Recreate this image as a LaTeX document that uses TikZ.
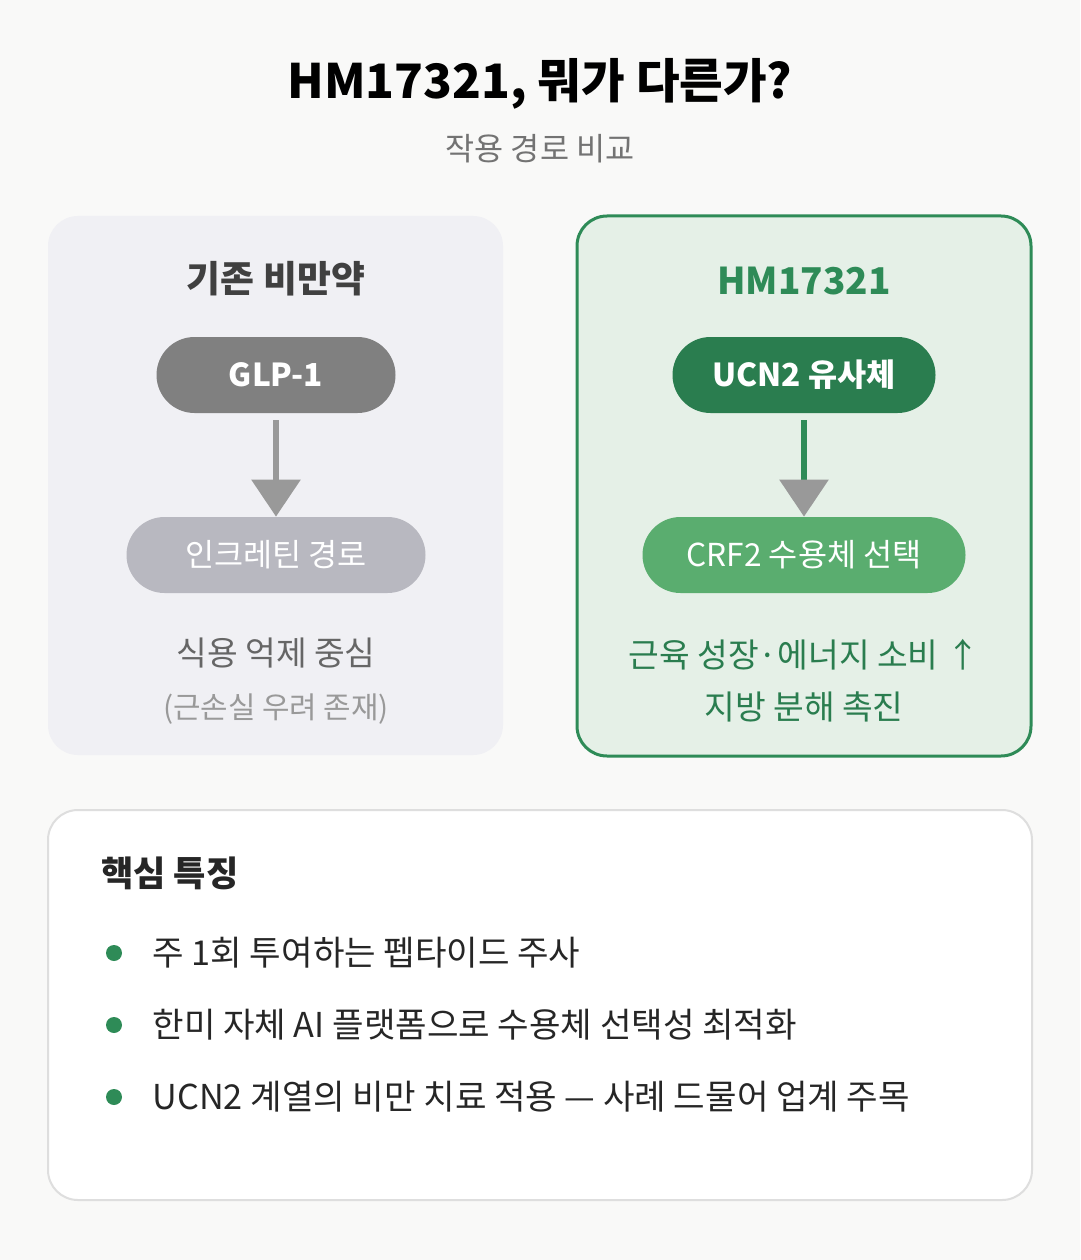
\documentclass[tikz,border=0pt]{standalone}
\usepackage{fontspec}
\setmainfont{Noto Sans CJK KR}
\usetikzlibrary{positioning, arrows.meta}
\definecolor{bgpage}{HTML}{F9F9F8}
\definecolor{leftbg}{HTML}{F0F0F4}
\definecolor{rightbg}{HTML}{E5F0E7}
\definecolor{hmgreen}{HTML}{2E8B57}
\definecolor{darkgreen}{HTML}{2A7D4F}
\definecolor{lightgreen}{HTML}{5AAD6F}
\definecolor{pillgray}{HTML}{808080}
\definecolor{pilllight}{HTML}{B8B8C0}
\definecolor{arrowgray}{HTML}{999999}
\begin{document}
\begin{tikzpicture}[x=0.02cm, y=-0.02cm, >=Latex,
        panel/.style = {rounded corners=30*0.02cm},
        pill/.style = {rounded corners=38*0.02cm, minimum height=76*0.02cm, text=white, font=\fontsize{18}{22}\selectfont},
        flow/.style = {-{Triangle[width=48*0.02cm, length=37*0.02cm, color=arrowgray]}, line width=6*0.02cm, shorten <=7*0.02cm},
        bullet/.style = {circle, fill=hmgreen, inner sep=0pt, minimum size=16*0.02cm},
        item/.style = {anchor=west, text=black!85, font=\fontsize{19.5}{23}\selectfont},
        ]
        \fill[bgpage] (0,0) rectangle (1080,1260);
        \useasboundingbox (0,0) rectangle (1080,1260);

        % title
        \node (title) at (540,84) {\fontsize{27}{32}\selectfont\bfseries HM17321, 뭐가 다른가?};
        \node[text=black!55] (subtitle) at (540,149) {\fontsize{18}{22}\selectfont 작용 경로 비교};

        % panels
        \fill[leftbg, panel] (48,216) rectangle (503,755);
        \filldraw[fill=rightbg, draw=hmgreen, line width=3*0.02cm, panel] (577,216) rectangle (1031,756);

        % left side
        \node[text=black!75] (oldtitle) at (276,279) {\fontsize{21}{25}\selectfont\bfseries 기존 비만약};
        \node[pill, fill=pillgray, minimum width=239*0.02cm] (glp) at (276,375) {\bfseries GLP-1};
        \node[pill, fill=pilllight, minimum width=299*0.02cm] (incretin) at (276,555) {인크레틴 경로};
        \draw[flow, arrowgray] (glp) -- (incretin);
        \node[text=black!60] (appetite) at (276,653) {\fontsize{19}{23}\selectfont 식용 억제 중심};
        \node[text=black!40] (muscle) at (276,709) {\fontsize{17}{21}\selectfont (근손실 우려 존재)};

        % right side
        \node[text=hmgreen] (newtitle) at (804,281) {\fontsize{21}{25}\selectfont\bfseries HM17321};
        \node[pill, fill=darkgreen, minimum width=263*0.02cm] (ucn) at (804,375) {\bfseries UCN2 유사체};
        \node[pill, fill=lightgreen, minimum width=323*0.02cm] (crf) at (804,555) {CRF2 수용체 선택};
        \draw[flow, hmgreen] (ucn) -- (crf);
        \node[text=darkgreen] (energy) at (804,655) {\fontsize{19}{23}\selectfont 근육 성장·에너지 소비 ↑};
        \node[text=darkgreen] (fat) at (804,707) {\fontsize{19}{23}\selectfont 지방 분해 촉진};

        % key features
        \filldraw[fill=white, draw=black!13, line width=2*0.02cm, panel] (48,810) rectangle (1032,1200);
        \node[anchor=west, text=black!85] (keytitle) at (95,873) {\fontsize{20}{24}\selectfont\bfseries 핵심 특징};
        \foreach \y/\txt [count=\i] in {953/주 1회 투여하는 펩타이드 주사,
                1025/한미 자체 AI 플랫폼으로 수용체 선택성 최적화,
                1097/UCN2 계열의 비만 치료 적용 — 사례 드물어 업계 주목} {
            \node[bullet] (dot\i) at (114,\y) {};
            \node[item, right=24*0.02cm of dot\i] (feat\i) {\txt};
        }
\end{tikzpicture}
\end{document}
